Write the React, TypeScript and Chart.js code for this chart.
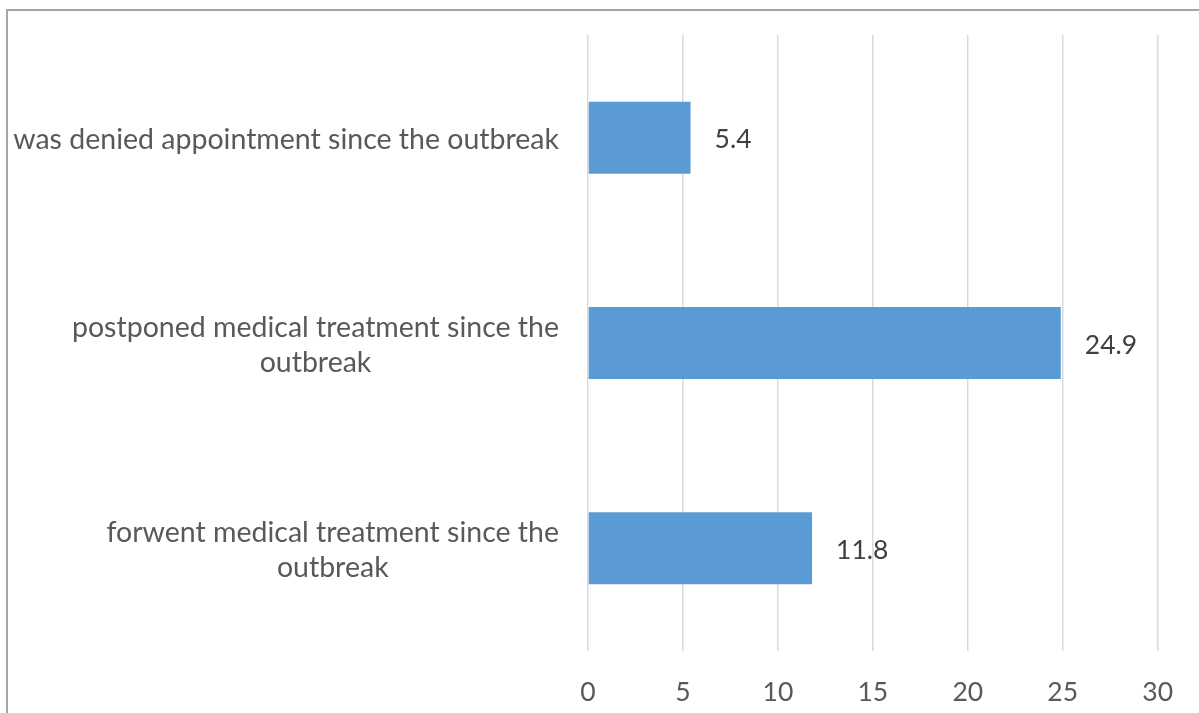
import React, { useEffect, useRef } from "react";
import { Chart, registerables } from "chart.js";

Chart.register(...registerables);

const categories: string[][] = [
  ["was denied appointment since the outbreak"],
  ["postponed medical treatment since the", "outbreak"],
  ["forwent medical treatment since the", "outbreak"],
];
const values: number[] = [5.4, 24.9, 11.8];
const xMin = 0;
const xMax = 30;
const xStep = 5;

const FONT = "Lato, 'Open Sans', sans-serif";
const FONT_SIZE = 26.5;
const CAT_FONT_SIZE = 28.5;
const LABEL_RIGHT = 559;
const LINE_H = 35;

const yLabelPlugin = {
  id: "yLabelPlugin",
  afterDraw(chart: any) {
    const ctx = chart.ctx;
    const yScale = chart.scales.y;
    ctx.save();
    ctx.font = `${CAT_FONT_SIZE}px ${FONT}`;
    ctx.fillStyle = "#595959";
    ctx.textAlign = "center";
    ctx.textBaseline = "middle";
    categories.forEach((lines, i) => {
      const yc = yScale.getPixelForValue(i);
      const maxW = Math.max(...lines.map((l) => ctx.measureText(l).width));
      const cx = LABEL_RIGHT - maxW / 2;
      const start = yc - ((lines.length - 1) * LINE_H) / 2;
      lines.forEach((l, j) => {
        ctx.fillText(l, cx, start + j * LINE_H + 2);
      });
    });
    ctx.restore();
  },
};

const dataLabelPlugin = {
  id: "dataLabelPlugin",
  afterDatasetsDraw(chart: any) {
    const ctx = chart.ctx;
    const meta = chart.getDatasetMeta(0);
    ctx.save();
    ctx.font = `${FONT_SIZE}px ${FONT}`;
    ctx.fillStyle = "#404040";
    ctx.textAlign = "left";
    ctx.textBaseline = "middle";
    meta.data.forEach((bar: any, i: number) => {
      ctx.fillText(String(values[i]), bar.x + 24, bar.y + 2);
    });
    ctx.restore();
  },
};

export default function App() {
  const ref = useRef<HTMLCanvasElement | null>(null);
  useEffect(() => {
    if (!ref.current) return;
    const chart = new Chart(ref.current, {
      type: "bar",
      data: {
        labels: categories.map((c) => c.join(" ")),
        datasets: [
          {
            data: values,
            backgroundColor: "#5b9bd5",
            borderWidth: 0,
            categoryPercentage: 1,
            barPercentage: 0.351,
          },
        ],
      },
      options: {
        indexAxis: "y",
        animation: false,
        responsive: false,
        maintainAspectRatio: false,
        layout: { padding: { top: 35, right: 41, left: 0, bottom: 0 } },
        plugins: {
          legend: { display: false },
          tooltip: { enabled: false },
          title: { display: false },
        },
        scales: {
          x: {
            type: "linear",
            position: "bottom",
            min: xMin,
            max: xMax,
            ticks: {
              stepSize: xStep,
              color: "#595959",
              font: { family: FONT, size: FONT_SIZE },
              padding: 26,
            },
            grid: { color: "#d9d9d9", lineWidth: 1.5, drawTicks: false },
            border: { display: false },
            afterFit: (s: any) => {
              s.height = 62;
            },
          },
          y: {
            type: "category",
            ticks: { display: false },
            grid: { display: false },
            border: { display: false },
            afterFit: (s: any) => {
              s.width = 588;
            },
          },
        },
      },
      plugins: [yLabelPlugin, dataLabelPlugin],
    });
    return () => chart.destroy();
  }, []);

  return (
    <div
      style={{
        position: "absolute",
        left: 0,
        top: 0,
        width: 1199,
        height: 713,
        overflow: "hidden",
        background: "#ffffff",
      }}
    >
      <div
        style={{
          position: "absolute",
          left: 6,
          top: 9,
          width: 1300,
          height: 800,
          borderLeft: "2px solid #a6a6a6",
          borderTop: "2px solid #a6a6a6",
        }}
      />
      <canvas
        ref={ref}
        width={1199}
        height={713}
        style={{ position: "absolute", left: 0, top: 0, width: 1199, height: 713 }}
      />
    </div>
  );
}
